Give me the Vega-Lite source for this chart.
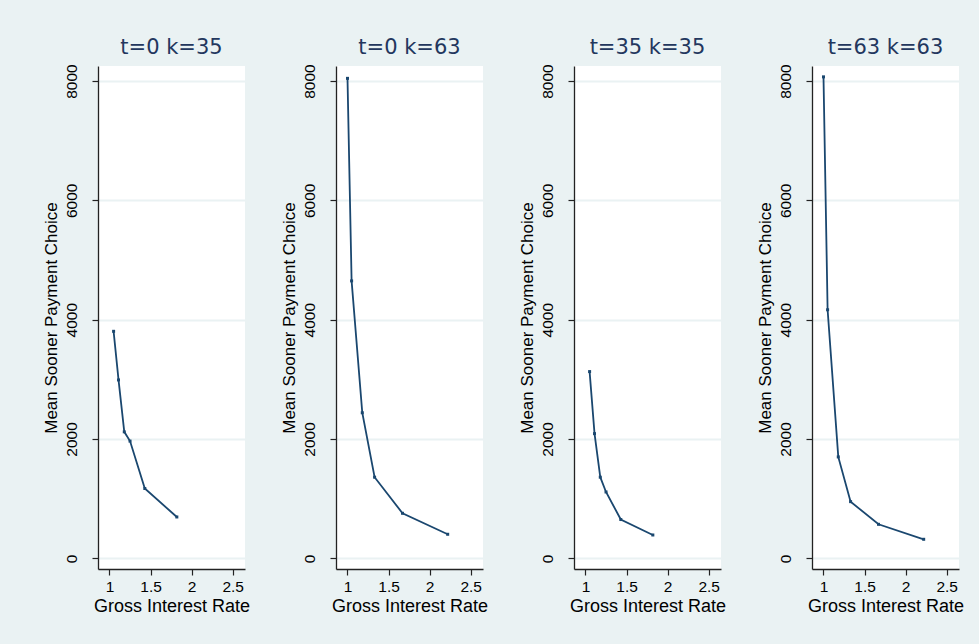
{
  "$schema": "https://vega.github.io/schema/vega-lite/v6.json",
  "background": "#eaf2f3",
  "padding": {"left": 41, "top": 37, "right": 15, "bottom": 29},
  "data": {
    "values": [
      {"panel": "t=0 k=35", "rate": 1.05, "payment": 3805},
      {"panel": "t=0 k=35", "rate": 1.11, "payment": 2990},
      {"panel": "t=0 k=35", "rate": 1.18, "payment": 2120},
      {"panel": "t=0 k=35", "rate": 1.25, "payment": 1965},
      {"panel": "t=0 k=35", "rate": 1.43, "payment": 1170},
      {"panel": "t=0 k=35", "rate": 1.82, "payment": 693},
      {"panel": "t=0 k=63", "rate": 1.0, "payment": 8045},
      {"panel": "t=0 k=63", "rate": 1.05, "payment": 4650},
      {"panel": "t=0 k=63", "rate": 1.18, "payment": 2440},
      {"panel": "t=0 k=63", "rate": 1.33, "payment": 1360},
      {"panel": "t=0 k=63", "rate": 1.67, "payment": 755},
      {"panel": "t=0 k=63", "rate": 2.22, "payment": 403},
      {"panel": "t=35 k=35", "rate": 1.05, "payment": 3130},
      {"panel": "t=35 k=35", "rate": 1.11, "payment": 2090},
      {"panel": "t=35 k=35", "rate": 1.18, "payment": 1360},
      {"panel": "t=35 k=35", "rate": 1.25, "payment": 1112},
      {"panel": "t=35 k=35", "rate": 1.43, "payment": 650},
      {"panel": "t=35 k=35", "rate": 1.82, "payment": 391},
      {"panel": "t=63 k=63", "rate": 1.0, "payment": 8070},
      {"panel": "t=63 k=63", "rate": 1.05, "payment": 4166},
      {"panel": "t=63 k=63", "rate": 1.18, "payment": 1700},
      {"panel": "t=63 k=63", "rate": 1.33, "payment": 950},
      {"panel": "t=63 k=63", "rate": 1.67, "payment": 570},
      {"panel": "t=63 k=63", "rate": 2.22, "payment": 319}
    ]
  },
  "facet": {
    "column": {
      "field": "panel",
      "type": "nominal",
      "sort": ["t=0 k=35", "t=0 k=63", "t=35 k=35", "t=63 k=63"],
      "title": null,
      "header": {
        "labelFont": "DejaVu Sans",
        "labelFontSize": 21,
        "labelColor": "#23375e",
        "labelPadding": 8,
        "labelOrient": "top"
      }
    }
  },
  "spacing": 91,
  "bounds": "flush",
  "resolve": {"axis": {"y": "independent", "x": "independent"}},
  "spec": {
    "width": 147,
    "height": 503,
    "encoding": {
      "x": {
        "field": "rate",
        "type": "quantitative",
        "title": "Gross Interest Rate",
        "scale": {"domain": [0.86, 2.65], "nice": false, "zero": false},
        "axis": {
          "values": [1, 1.5, 2, 2.5],
          "format": "~g",
          "grid": false,
          "labelFontSize": 15.5,
          "labelPadding": 4,
          "titleFontSize": 18,
          "titlePadding": 3
        }
      },
      "y": {
        "field": "payment",
        "type": "quantitative",
        "title": "Mean Sooner Payment Choice",
        "scale": {"domain": [-179, 8252], "nice": false, "zero": false},
        "axis": {
          "values": [0, 2000, 4000, 6000, 8000],
          "format": "d",
          "grid": true,
          "gridColor": "#eaf2f3",
          "gridWidth": 2,
          "labelAngle": -90,
          "labelFontSize": 15.5,
          "labelPadding": 13,
          "titleFontSize": 17,
          "titlePadding": 4
        }
      }
    },
    "layer": [
      {"mark": {"type": "line", "color": "#1a476f", "strokeWidth": 1.8}},
      {"mark": {"type": "point", "shape": "square", "filled": true, "size": 9, "color": "#1a476f", "opacity": 1}}
    ]
  },
  "config": {
    "font": "Liberation Sans",
    "view": {"fill": "white", "stroke": null},
    "axis": {
      "labelFont": "Liberation Sans",
      "titleFont": "Liberation Sans",
      "labelColor": "#000000",
      "titleColor": "#000000",
      "titleFontWeight": "normal",
      "domainColor": "#222222",
      "domainWidth": 1.3,
      "tickColor": "#222222",
      "tickSize": 6,
      "tickWidth": 1.2
    }
  }
}
